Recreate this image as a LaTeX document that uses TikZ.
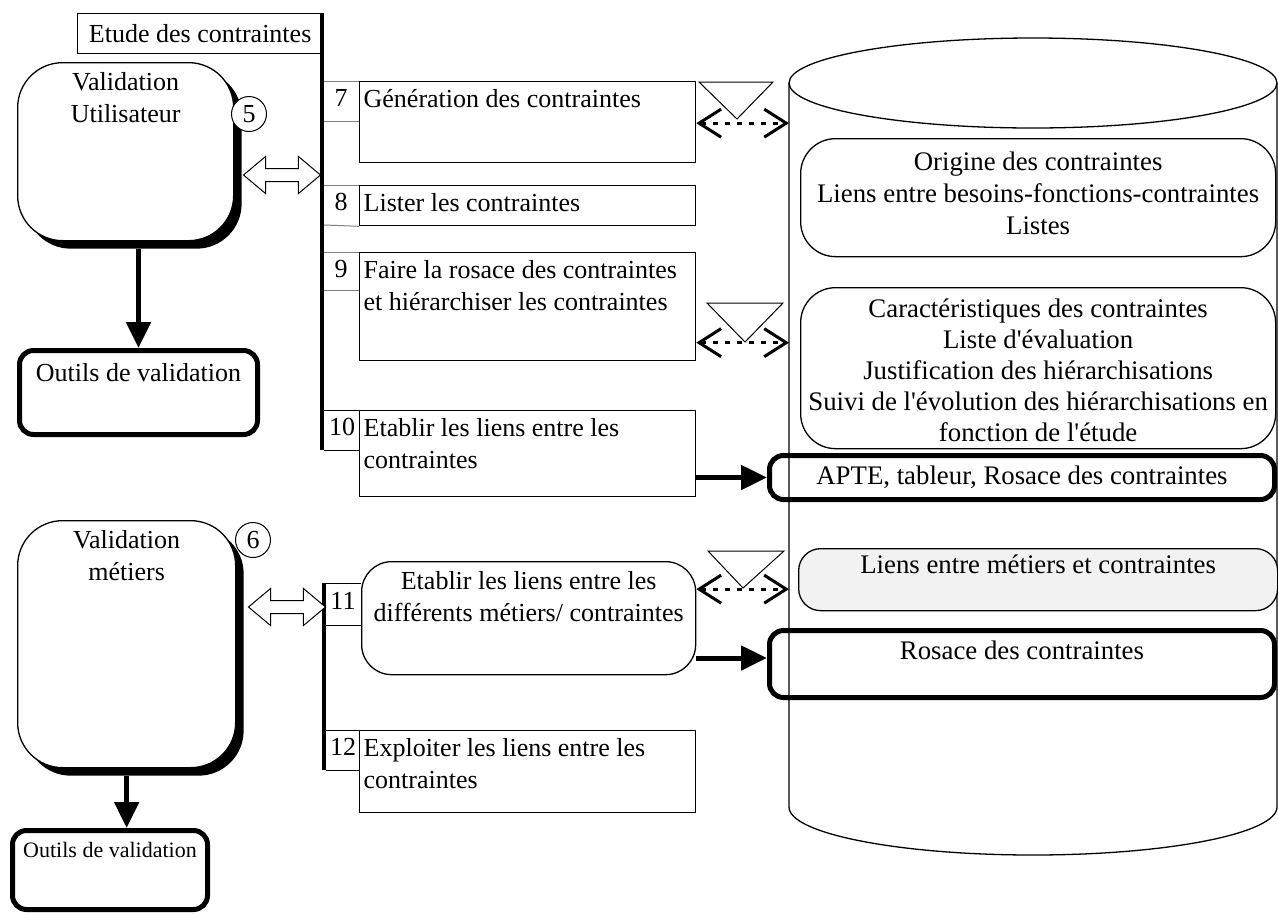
\documentclass[tikz,border=0pt]{standalone}
\usepackage{fontspec}
\setmainfont{Liberation Serif}
\usetikzlibrary{arrows.meta,shapes.arrows,shadows,calc}
\newcommand{\mytb}[3]{\parbox[t][#2][t]{#1}{\raggedright\strut #3}}
\newcommand{\mytc}[3]{\parbox[t][#2][t]{#1}{\centering\strut #3}}
\newcommand{\apos}{\textquotesingle}
\begin{document}
\begin{tikzpicture}[x=1pt,y=-1pt,font=\fontsize{26}{32}\selectfont,
  procbox/.style={draw, line width=1.3pt, inner xsep=4pt, inner ysep=3pt, anchor=north west},
  rbox/.style={draw, line width=1.3pt, rounded corners=30pt, inner xsep=4pt, anchor=north west},
  thickbox/.style={draw, line width=5pt, rounded corners=14pt, inner xsep=4pt, anchor=north west},
  valbox/.style={draw, line width=1.3pt, rounded corners=45pt, fill=white, inner xsep=5pt, inner ysep=5pt, anchor=north west,
     drop shadow={shadow xshift=8pt, shadow yshift=-8pt, fill=black, opacity=1}},
  numcirc/.style={draw, circle, fill=white, line width=1pt, minimum size=35pt, inner sep=0pt},
  hollow/.style={double arrow, draw, fill=white, line width=1pt, minimum height=77pt, inner sep=6pt, double arrow head extend=12pt, double arrow tip angle=80},
  bar/.style={line width=4pt},
  cell/.style={line width=1pt, gray},
  cellk/.style={line width=1pt},
  bigarrow/.style={line width=5pt, -{Triangle[length=26pt,width=24pt]}},
  dasharr/.style={line width=3pt, dash pattern=on 5pt off 7pt, {Straight Barb[length=22pt,width=28pt]}-{Straight Barb[length=22pt,width=28pt]}},
  tri/.style={line width=1pt},
  storefont/.style={font=\fontsize{26.8}{32}\selectfont},
  numtxt/.style={anchor=base, inner sep=0pt}]
\useasboundingbox (0,0) rectangle (1278,914);

% ---------- cylinder (data store) ----------
\draw[line width=1.3pt] (1033,83) ellipse [x radius=244, y radius=45];
\draw[line width=1.3pt] (789,83) -- (789,807) arc[start angle=180, end angle=0, x radius=244, y radius=48] -- (1277,83);
\coordinate (cyl) at (789,0);

% inner boxes of the store
\node[rbox, storefont, rounded corners=35pt, inner ysep=9pt, inner xsep=2pt] (sA) at (800,138) {\mytc{471pt}{100pt}{Origine des contraintes\\Liens entre besoins-fonctions-contraintes\\Listes}};
\node[rbox, rounded corners=35pt, inner ysep=8pt, inner xsep=2pt, font=\fontsize{26.8}{31}\selectfont] (sB) at (800,287) {\mytc{471pt}{145pt}{Caractéristiques des contraintes\\Liste d\apos évaluation\\Justification des hiérarchisations\\Suivi de l\apos évolution des hiérarchisations en\\fonction de l\apos étude}};
\node[thickbox, storefont, minimum width=505pt, minimum height=44pt, inner sep=0pt] (apte) at (767,453) {APTE, tableur, Rosace des contraintes};
\node[rbox, storefont, rounded corners=22pt, fill=gray!10, inner ysep=2pt] (sC) at (798,548) {\mytc{471pt}{58pt}{Liens entre métiers et contraintes}};
\node[thickbox, storefont, inner ysep=7pt] (ros) at (767,628) {\mytc{497pt}{53pt}{Rosace des contraintes}};

% ---------- header and bars ----------
\node[procbox, minimum width=245pt, minimum height=40pt, inner sep=0pt] (etude) at (77,13) {Etude des contraintes};
\draw[bar] (322,13) -- (322,450);
\draw[bar] (324,583) -- (324,770);

% ---------- process boxes ----------
\node[procbox] (b7) at (359,81) {\mytb{328pt}{75pt}{Génération des contraintes}};
\node[procbox] (b8) at (359,185) {\mytb{328pt}{34pt}{Lister les contraintes}};
\node[procbox] (b9) at (359,252) {\mytb{328pt}{102pt}{Faire la rosace des contraintes\\et hiérarchiser les contraintes}};
\node[procbox] (b10) at (359,410) {\mytb{328pt}{80pt}{Etablir les liens entre les\\contraintes}};
\node[rbox, inner ysep=5pt] (b11) at (361,561) {\mytc{326pt}{103pt}{Etablir les liens entre les\\différents métiers/ contraintes}};
\node[procbox] (b12) at (359,730) {\mytb{328pt}{76pt}{Exploiter les liens entre les\\contraintes}};

% number cells
\draw[cell] (324,81) -- (b7.north west);
\draw[cell] (324,121) -- (359,121);
\node[numtxt] (n7) at (341,106) {7};
\draw[cell] (324,185) -- (b8.north west);
\draw[cell] (324,225) -- (b8.south west);
\node[numtxt] (n8) at (341,210) {8};
\draw[cell] (324,252) -- (b9.north west);
\draw[cell] (324,290) -- (359,290);
\node[numtxt] (n9) at (341,277) {9};
\draw[cellk] (324,410) -- (b10.north west);
\draw[cellk] (324,450) -- (359,450);
\node[numtxt] (n10) at (342,435) {10};
\draw[cellk] (326,583) -- (361,583);
\draw[cellk] (326,625) -- (361,625);
\node[numtxt] (n11) at (343,609) {11};
\draw[cellk] (326,730) -- (b12.north west);
\draw[cellk] (326,770) -- (359,770);
\node[numtxt] (n12) at (343,755) {12};

% ---------- validation boxes ----------
\node[valbox] (vu) at (17,62) {\mytc{206pt}{168pt}{Validation\\Utilisateur}};
\node[numcirc] (c5) at (249,114) {5};
\node[valbox] (vm) at (17,520) {\mytc{208pt}{237pt}{Validation\\métiers}};
\node[numcirc] (c6) at (253,540) {6};

\node[thickbox, inner ysep=9pt] (o1) at (17,348) {\mytc{230pt}{66pt}{Outils de validation}};
\node[thickbox, inner ysep=8pt, font=\fontsize{22}{27}\selectfont] (o2) at (10,828) {\mytc{187pt}{63pt}{Outils de validation}};

\node[hollow] (h1) at (282,175) {};
\node[hollow] (h2) at (287,607) {};

% ---------- connectors ----------
\draw[bigarrow] ([yshift=-8pt]vu.south -| o1.north) -- (o1.north);
\draw[bigarrow] ([yshift=-8pt]vm.south) -- (vm.south |- o2.north);
\draw[bigarrow] (b10.east |- apte.west) -- (apte.west);
\draw[bigarrow] ([yshift=6pt]b11.east |- ros.west) -- ([yshift=6pt]ros.west);

% triangles and dashed double arrows
\draw[tri] (699,82) -- (773,82) -- (737,119) -- cycle;
\draw[dasharr] ([yshift=-1pt]b7.east) -- ([yshift=-1pt]b7.east -| cyl);
\draw[tri] (707,303) -- (783,303) -- (745,342) -- cycle;
\draw[dasharr] ([yshift=-36pt]b9.east) -- ([yshift=-36pt]b9.east -| cyl);
\draw[tri] (708,551) -- (784,551) -- (743,588) -- cycle;
\draw[dasharr] ([yshift=29pt]b11.east) -- ([yshift=29pt]b11.east -| cyl);
\end{tikzpicture}
\end{document}
